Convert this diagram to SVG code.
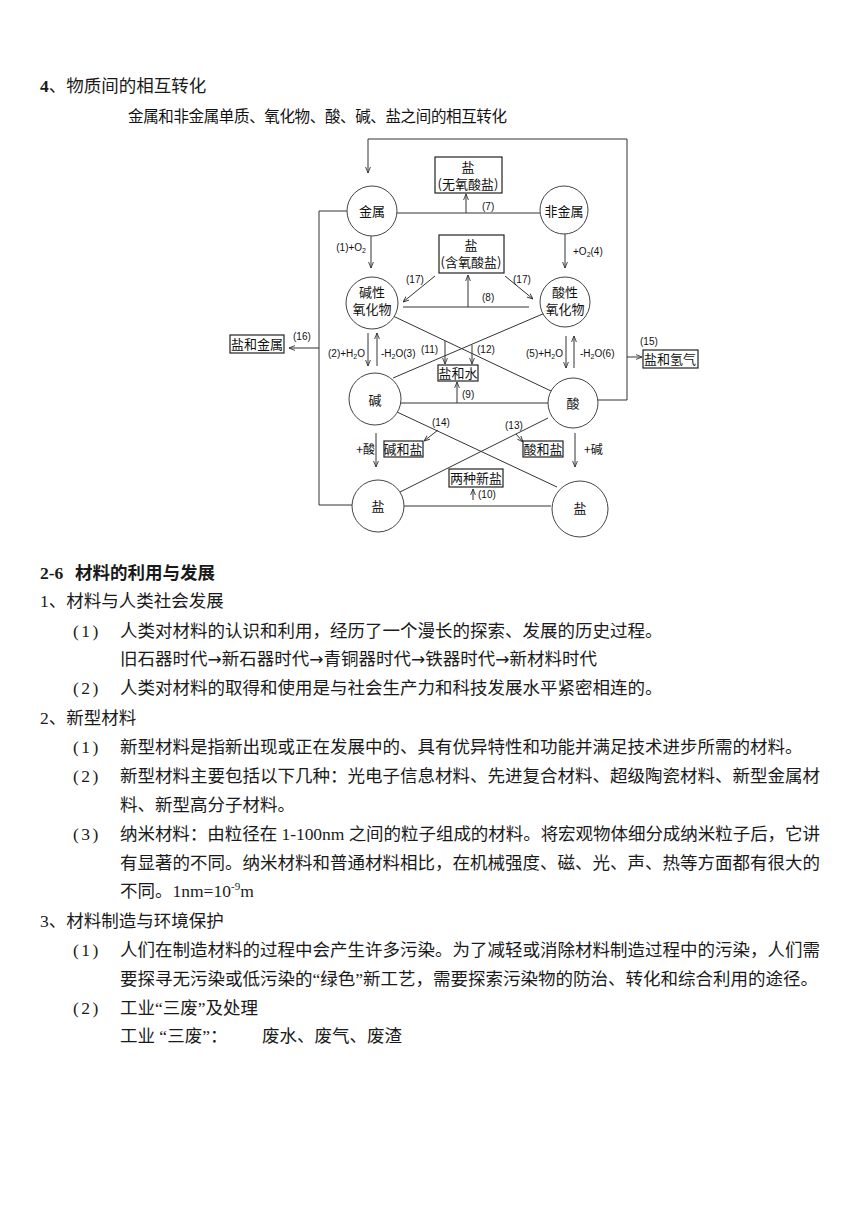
<svg xmlns="http://www.w3.org/2000/svg" width="860" height="1216" viewBox="0 0 860 1216">
<style>
.ln{stroke:#333;stroke-width:1;fill:none}
.ar{marker-end:url(#ah)}
.cir{fill:#fff;stroke:#444;stroke-width:1}
.box{fill:#fff;stroke:#222;stroke-width:1.2}
.dl{font-family:"Noto Sans CJK SC",sans-serif;font-size:13px;fill:#111}
.sm{font-family:"Liberation Sans","Noto Sans CJK SC",sans-serif;font-size:10px;fill:#111}
.tx{font-family:"Liberation Serif","Noto Sans CJK SC",serif;font-size:17.5px;fill:#1a1a1a}
.b{font-weight:bold}
.pn{letter-spacing:2.5px}
.arw{font-family:"DejaVu Sans",sans-serif;font-size:17px}
</style>
<defs>
<marker id="ah" viewBox="0 0 10 10" refX="10" refY="5" markerWidth="6" markerHeight="6" orient="auto" markerUnits="userSpaceOnUse">
<path d="M0,1 L10,5 L0,9" fill="none" stroke="#333" stroke-width="1.5"/>
</marker>
</defs>
<rect width="860" height="1216" fill="#fff"/>

<text class="tx" x="40" y="92"><tspan class="b">4</tspan>、物质间的相互转化</text>
<text class="dl" x="128" y="122" style="font-size:15.5px" textLength="379">金属和非金属单质、氧化物、酸、碱、盐之间的相互转化</text>

<g id="connectors">
<path class="ln ar" d="M597,400 H627 V139 H368 V173"/>
<path class="ln" d="M347,211 H319 V505 H352"/>
<path class="ln ar" d="M319,348 H289"/>
<path class="ln ar" d="M627,357 H642"/>
<path class="ln" d="M397,213 H540"/>
<path class="ln ar" d="M466,213 V194"/>
<path class="ln ar" d="M371,236 V268"/>
<path class="ln ar" d="M565,234 V268"/>
<path class="ln ar" d="M435,276 L403,302"/>
<path class="ln ar" d="M505,276 L533,299"/>
<path class="ln" d="M403,307 H529"/>
<path class="ln ar" d="M468,307 V275"/>
<path class="ln" d="M393,316 L551,391"/>
<path class="ln" d="M545,313 L393,378"/>
<path class="ln ar" d="M445,341 V364"/>
<path class="ln ar" d="M472,345 V364"/>
<path class="ln ar" d="M368,333 V366"/>
<path class="ln ar" d="M377,366 V333"/>
<path class="ln ar" d="M566,336 V368"/>
<path class="ln ar" d="M574,368 V336"/>
<path class="ln" d="M400,403 H548"/>
<path class="ln ar" d="M457,403 V382"/>
<path class="ln" d="M397,412 L557,487"/>
<path class="ln" d="M548,418 L398,493"/>
<path class="ln ar" d="M438,430 L424,441"/>
<path class="ln ar" d="M516,434 L523,442"/>
<path class="ln ar" d="M376,433 V467"/>
<path class="ln ar" d="M575,433 V467"/>
<path class="ln" d="M401,506 H551"/>
<path class="ln ar" d="M473,500 V489"/>
</g>

<g id="labels">
<text class="sm" x="482" y="210">(7)</text>
<text class="sm" x="366" y="251" text-anchor="end">(1)+O<tspan font-size="7" dy="2">2</tspan></text>
<text class="sm" x="573" y="255">+O<tspan font-size="7" dy="2">2</tspan><tspan dy="-2">(4)</tspan></text>
<text class="sm" x="406" y="283">(17)</text>
<text class="sm" x="513" y="283">(17)</text>
<text class="sm" x="482" y="301">(8)</text>
<text class="sm" x="293" y="340">(16)</text>
<text class="sm" x="640" y="345">(15)</text>
<text class="sm" x="365" y="357" text-anchor="end">(2)+H<tspan font-size="7" dy="2">2</tspan><tspan dy="-2">O</tspan></text>
<text class="sm" x="381" y="357">-H<tspan font-size="7" dy="2">2</tspan><tspan dy="-2">O(3)</tspan></text>
<text class="sm" x="421" y="353">(11)</text>
<text class="sm" x="477" y="353">(12)</text>
<text class="sm" x="563" y="357" text-anchor="end">(5)+H<tspan font-size="7" dy="2">2</tspan><tspan dy="-2">O</tspan></text>
<text class="sm" x="580" y="357">-H<tspan font-size="7" dy="2">2</tspan><tspan dy="-2">O(6)</tspan></text>
<text class="sm" x="462" y="398">(9)</text>
<text class="sm" x="432" y="426">(14)</text>
<text class="sm" x="505" y="429">(13)</text>
<text class="dl" x="375" y="454" text-anchor="end" style="font-size:12px">+酸</text>
<text class="dl" x="584" y="454" style="font-size:12px">+碱</text>
<text class="sm" x="478" y="498">(10)</text>
</g>

<g id="n-jinshu"><circle class="cir" cx="372" cy="211" r="25"/><text class="dl" x="372" y="216" text-anchor="middle">金属</text></g>
<g id="n-feijinshu"><circle class="cir" cx="564" cy="210" r="24"/><text class="dl" x="564" y="216" text-anchor="middle">非金属</text></g>
<g id="n-jianxing"><circle class="cir" cx="372" cy="303" r="26"/><text class="dl" x="372" y="297" text-anchor="middle">碱性</text><text class="dl" x="372" y="314" text-anchor="middle">氧化物</text></g>
<g id="n-suanxing"><circle class="cir" cx="565" cy="302" r="25"/><text class="dl" x="565" y="297" text-anchor="middle">酸性</text><text class="dl" x="565" y="314" text-anchor="middle">氧化物</text></g>
<g id="n-jian"><circle class="cir" cx="375" cy="399" r="26"/><text class="dl" x="375" y="405" text-anchor="middle">碱</text></g>
<g id="n-suan"><circle class="cir" cx="573" cy="403" r="25"/><text class="dl" x="573" y="408" text-anchor="middle">酸</text></g>
<g id="n-yan-l"><circle class="cir" cx="378" cy="506" r="26"/><text class="dl" x="378" y="511" text-anchor="middle">盐</text></g>
<g id="n-yan-r"><circle class="cir" cx="580" cy="509" r="28"/><text class="dl" x="580" y="513" text-anchor="middle">盐</text></g>

<g id="b-wuyang"><rect class="box" x="435" y="157" width="67" height="36"/><text class="dl" x="468" y="172" text-anchor="middle">盐</text><text class="dl" x="468" y="189" text-anchor="middle">(无氧酸盐)</text></g>
<g id="b-hanyang"><rect class="box" x="439" y="235" width="65" height="38"/><text class="dl" x="471" y="250" text-anchor="middle">盐</text><text class="dl" x="471" y="267" text-anchor="middle">(含氧酸盐)</text></g>
<g id="b-yanjinshu"><rect class="box" x="230" y="335" width="54" height="18"/><text class="dl" x="257" y="349" text-anchor="middle">盐和金属</text></g>
<g id="b-yanqingqi"><rect class="box" x="643" y="350" width="55" height="18"/><text class="dl" x="670" y="364" text-anchor="middle">盐和氢气</text></g>
<g id="b-yanshui"><rect class="box" x="438" y="365" width="40" height="16"/><text class="dl" x="458" y="378" text-anchor="middle">盐和水</text></g>
<g id="b-jianyan"><rect class="box" x="384" y="441" width="39" height="16"/><text class="dl" x="403" y="454" text-anchor="middle">碱和盐</text></g>
<g id="b-suanyan"><rect class="box" x="523" y="441" width="40" height="16"/><text class="dl" x="543" y="454" text-anchor="middle">酸和盐</text></g>
<g id="b-xinyan"><rect class="box" x="449" y="469" width="54" height="18"/><text class="dl" x="476" y="483" text-anchor="middle">两种新盐</text></g>

<g id="text-body">
<text class="tx b" x="40" y="579">2-6</text><text class="tx b" x="75" y="579">材料的利用与发展</text>
<text class="tx" x="40" y="607">1、材料与人类社会发展</text>
<text class="tx pn" x="73" y="637">(1)</text><text class="tx" x="120" y="637">人类对材料的认识和利用，经历了一个漫长的探索、发展的历史过程。</text>
<text class="tx" x="120" y="665">旧石器时代<tspan class="arw">→</tspan>新石器时代<tspan class="arw">→</tspan>青铜器时代<tspan class="arw">→</tspan>铁器时代<tspan class="arw">→</tspan>新材料时代</text>
<text class="tx pn" x="73" y="694">(2)</text><text class="tx" x="120" y="694">人类对材料的取得和使用是与社会生产力和科技发展水平紧密相连的。</text>
<text class="tx" x="40" y="724">2、新型材料</text>
<text class="tx pn" x="73" y="753">(1)</text><text class="tx" x="120" y="753">新型材料是指新出现或正在发展中的、具有优异特性和功能并满足技术进步所需的材料。</text>
<text class="tx pn" x="73" y="782">(2)</text><text class="tx" x="120" y="782" textLength="700">新型材料主要包括以下几种：光电子信息材料、先进复合材料、超级陶瓷材料、新型金属材</text>
<text class="tx" x="120" y="811">料、新型高分子材料。</text>
<text class="tx pn" x="73" y="840">(3)</text><text class="tx" x="120" y="840" textLength="700">纳米材料：由粒径在 1-100nm 之间的粒子组成的材料。将宏观物体细分成纳米粒子后，它讲</text>
<text class="tx" x="120" y="869" textLength="700">有显著的不同。纳米材料和普通材料相比，在机械强度、磁、光、声、热等方面都有很大的</text>
<text class="tx" x="120" y="897">不同。1nm=10<tspan font-size="11" dy="-7">-9</tspan><tspan dy="7">m</tspan></text>
<text class="tx" x="40" y="927">3、材料制造与环境保护</text>
<text class="tx pn" x="73" y="956">(1)</text><text class="tx" x="120" y="956" textLength="700">人们在制造材料的过程中会产生许多污染。为了减轻或消除材料制造过程中的污染，人们需</text>
<text class="tx" x="120" y="985">要探寻无污染或低污染的“绿色”新工艺，需要探索污染物的防治、转化和综合利用的途径。</text>
<text class="tx pn" x="73" y="1014">(2)</text><text class="tx" x="120" y="1014">工业“三废”及处理</text>
<text class="tx" x="120" y="1042">工业 “三废”：</text><text class="tx" x="262" y="1042">废水、废气、废渣</text>
</g>
</svg>
